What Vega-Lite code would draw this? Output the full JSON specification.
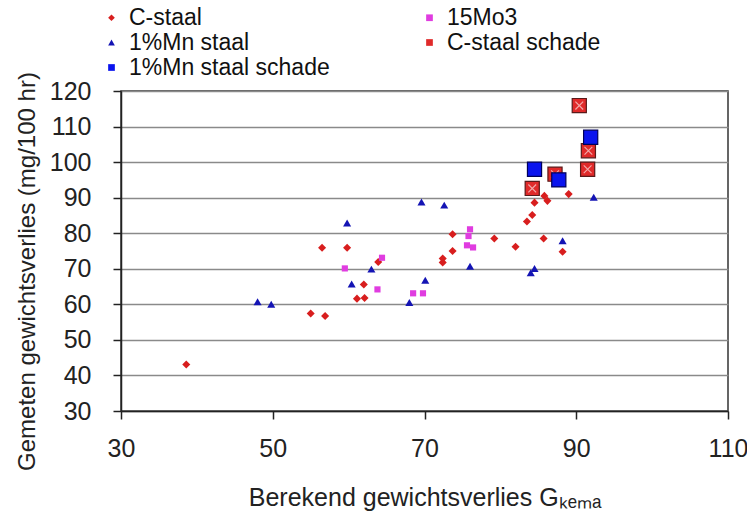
{
  "$schema": "https://vega.github.io/schema/vega-lite/v6.json",
  "width": 607,
  "height": 320,
  "autosize": "none",
  "padding": {"left": 121, "top": 91, "right": 19, "bottom": 104},
  "background": "white",
  "config": {
    "font": "Liberation Sans",
    "view": {"stroke": "#333333", "strokeWidth": 1.5}
  },
  "data": {
    "values": [
      {"series": "C-staal", "x": 38.6, "y": 43.1},
      {"series": "C-staal", "x": 55.0, "y": 57.4},
      {"series": "C-staal", "x": 56.9, "y": 56.7},
      {"series": "C-staal", "x": 56.5, "y": 75.9},
      {"series": "C-staal", "x": 59.8, "y": 75.9},
      {"series": "C-staal", "x": 62.0, "y": 65.6},
      {"series": "C-staal", "x": 61.1, "y": 61.6},
      {"series": "C-staal", "x": 62.1, "y": 61.8},
      {"series": "C-staal", "x": 63.9, "y": 71.9},
      {"series": "C-staal", "x": 72.4, "y": 72.9},
      {"series": "C-staal", "x": 72.4, "y": 71.8},
      {"series": "C-staal", "x": 73.7, "y": 75.0},
      {"series": "C-staal", "x": 73.7, "y": 79.7},
      {"series": "C-staal", "x": 79.2, "y": 78.5},
      {"series": "C-staal", "x": 82.0, "y": 76.2},
      {"series": "C-staal", "x": 85.7, "y": 78.5},
      {"series": "C-staal", "x": 88.2, "y": 74.8},
      {"series": "C-staal", "x": 83.5, "y": 83.3},
      {"series": "C-staal", "x": 84.2, "y": 85.1},
      {"series": "C-staal", "x": 84.5, "y": 88.6},
      {"series": "C-staal", "x": 85.8, "y": 90.5},
      {"series": "C-staal", "x": 86.2, "y": 89.1},
      {"series": "C-staal", "x": 89.0, "y": 91.0},
      {"series": "1%Mn staal", "x": 48.0, "y": 60.7},
      {"series": "1%Mn staal", "x": 49.8, "y": 60.0},
      {"series": "1%Mn staal", "x": 59.8, "y": 82.9},
      {"series": "1%Mn staal", "x": 60.4, "y": 65.7},
      {"series": "1%Mn staal", "x": 63.0, "y": 69.9},
      {"series": "1%Mn staal", "x": 68.0, "y": 60.5},
      {"series": "1%Mn staal", "x": 70.1, "y": 66.8},
      {"series": "1%Mn staal", "x": 69.6, "y": 88.8},
      {"series": "1%Mn staal", "x": 72.6, "y": 87.9},
      {"series": "1%Mn staal", "x": 76.0, "y": 70.7},
      {"series": "1%Mn staal", "x": 84.0, "y": 68.9},
      {"series": "1%Mn staal", "x": 84.5, "y": 70.1},
      {"series": "1%Mn staal", "x": 88.2, "y": 77.9},
      {"series": "1%Mn staal", "x": 92.3, "y": 90.1},
      {"series": "15Mo3", "x": 59.5, "y": 70.1},
      {"series": "15Mo3", "x": 63.8, "y": 64.2},
      {"series": "15Mo3", "x": 64.4, "y": 73.1},
      {"series": "15Mo3", "x": 68.5, "y": 63.1},
      {"series": "15Mo3", "x": 69.8, "y": 63.1},
      {"series": "15Mo3", "x": 76.0, "y": 81.1},
      {"series": "15Mo3", "x": 75.8, "y": 79.2},
      {"series": "15Mo3", "x": 75.6, "y": 76.6},
      {"series": "15Mo3", "x": 76.4, "y": 76.0},
      {"series": "C-staal schade", "x": 90.4, "y": 115.9},
      {"series": "C-staal schade", "x": 91.6, "y": 103.2},
      {"series": "C-staal schade", "x": 91.5, "y": 98.0},
      {"series": "C-staal schade", "x": 87.2, "y": 96.6},
      {"series": "C-staal schade", "x": 84.2, "y": 92.6},
      {"series": "1%Mn staal schade", "x": 91.9, "y": 107.0},
      {"series": "1%Mn staal schade", "x": 84.5, "y": 98.0},
      {"series": "1%Mn staal schade", "x": 87.7, "y": 95.0}
    ]
  },
  "encoding": {
    "x": {
      "field": "x", "type": "quantitative",
      "scale": {"domain": [30, 110], "nice": false, "zero": false},
      "axis": {
        "values": [30, 50, 70, 90, 110],
        "grid": false,
        "title": "Berekend gewichtsverlies Gₖₑₘₐ",
        "labelFontSize": 25, "titleFontSize": 25, "titleFontWeight": "normal",
        "labelColor": "#222222", "titleColor": "#222222",
        "domainColor": "#222222", "domainWidth": 1.5,
        "tickColor": "#222222", "tickWidth": 1.5, "tickSize": 8,
        "labelPadding": 17, "titlePadding": 24,
        "labelFlush": false, "labelOverlap": false
      }
    },
    "y": {
      "field": "y", "type": "quantitative",
      "scale": {"domain": [30, 120], "nice": false, "zero": false},
      "axis": {
        "values": [30, 40, 50, 60, 70, 80, 90, 100, 110, 120],
        "grid": true, "gridColor": "#8a8a8a", "gridWidth": 1.5,
        "title": "Gemeten gewichtsverlies (mg/100 hr)",
        "labelFontSize": 25, "titleFontSize": 24, "titleFontWeight": "normal",
        "labelColor": "#222222", "titleColor": "#222222",
        "domainColor": "#222222", "domainWidth": 1.5,
        "tickColor": "#222222", "tickWidth": 1.5, "tickSize": 8,
        "labelPadding": 22, "titlePadding": 10, "titleY": 180,
        "labelFlush": false, "labelOverlap": false
      }
    },
    "color": {
      "field": "series", "type": "nominal",
      "scale": {
        "domain": ["C-staal", "1%Mn staal", "1%Mn staal schade", "15Mo3", "C-staal schade"],
        "range": ["#d81e1e", "#1414b4", "#0a14ee", "#e03ce0", "#e02a2a"]
      },
      "legend": {
        "orient": "none", "legendX": -21, "legendY": -85,
        "columns": 2, "title": null,
        "labelFontSize": 23, "labelColor": "#111111", "labelLimit": 400,
        "symbolSize": 45, "symbolStrokeWidth": 0,
        "rowPadding": 1, "columnPadding": 88,
        "labelOffset": 6, "padding": 0
      }
    },
    "shape": {
      "field": "series", "type": "nominal",
      "scale": {
        "domain": ["C-staal", "1%Mn staal", "1%Mn staal schade", "15Mo3", "C-staal schade"],
        "range": ["diamond", "triangle-up", "square", "square", "square"]
      }
    }
  },
  "layer": [
    {
      "transform": [{"filter": {"field": "series", "oneOf": ["C-staal", "1%Mn staal"]}}],
      "mark": {"type": "point", "filled": true, "opacity": 1, "size": 65}
    },
    {
      "transform": [{"filter": {"field": "series", "equal": "15Mo3"}}],
      "mark": {"type": "point", "filled": true, "opacity": 1, "size": 38}
    },
    {
      "transform": [{"filter": {"field": "series", "equal": "C-staal schade"}}],
      "mark": {"type": "point", "filled": true, "opacity": 1, "size": 200, "stroke": "#5a1a1a", "strokeWidth": 1.2}
    },
    {
      "transform": [{"filter": {"field": "series", "equal": "C-staal schade"}}],
      "mark": {
        "type": "point", "filled": false, "strokeWidth": 1.2,
        "size": 200, "opacity": 1
      },
      "encoding": {
        "shape": {"value": "M-0.55,-0.55L0.55,0.55M0.55,-0.55L-0.55,0.55"},
        "color": {"value": "#f2a8a8"}
      }
    },
    {
      "transform": [{"filter": {"field": "series", "equal": "1%Mn staal schade"}}],
      "mark": {"type": "point", "filled": true, "opacity": 1, "size": 200, "stroke": "#00005a", "strokeWidth": 1.2}
    }
  ]
}
